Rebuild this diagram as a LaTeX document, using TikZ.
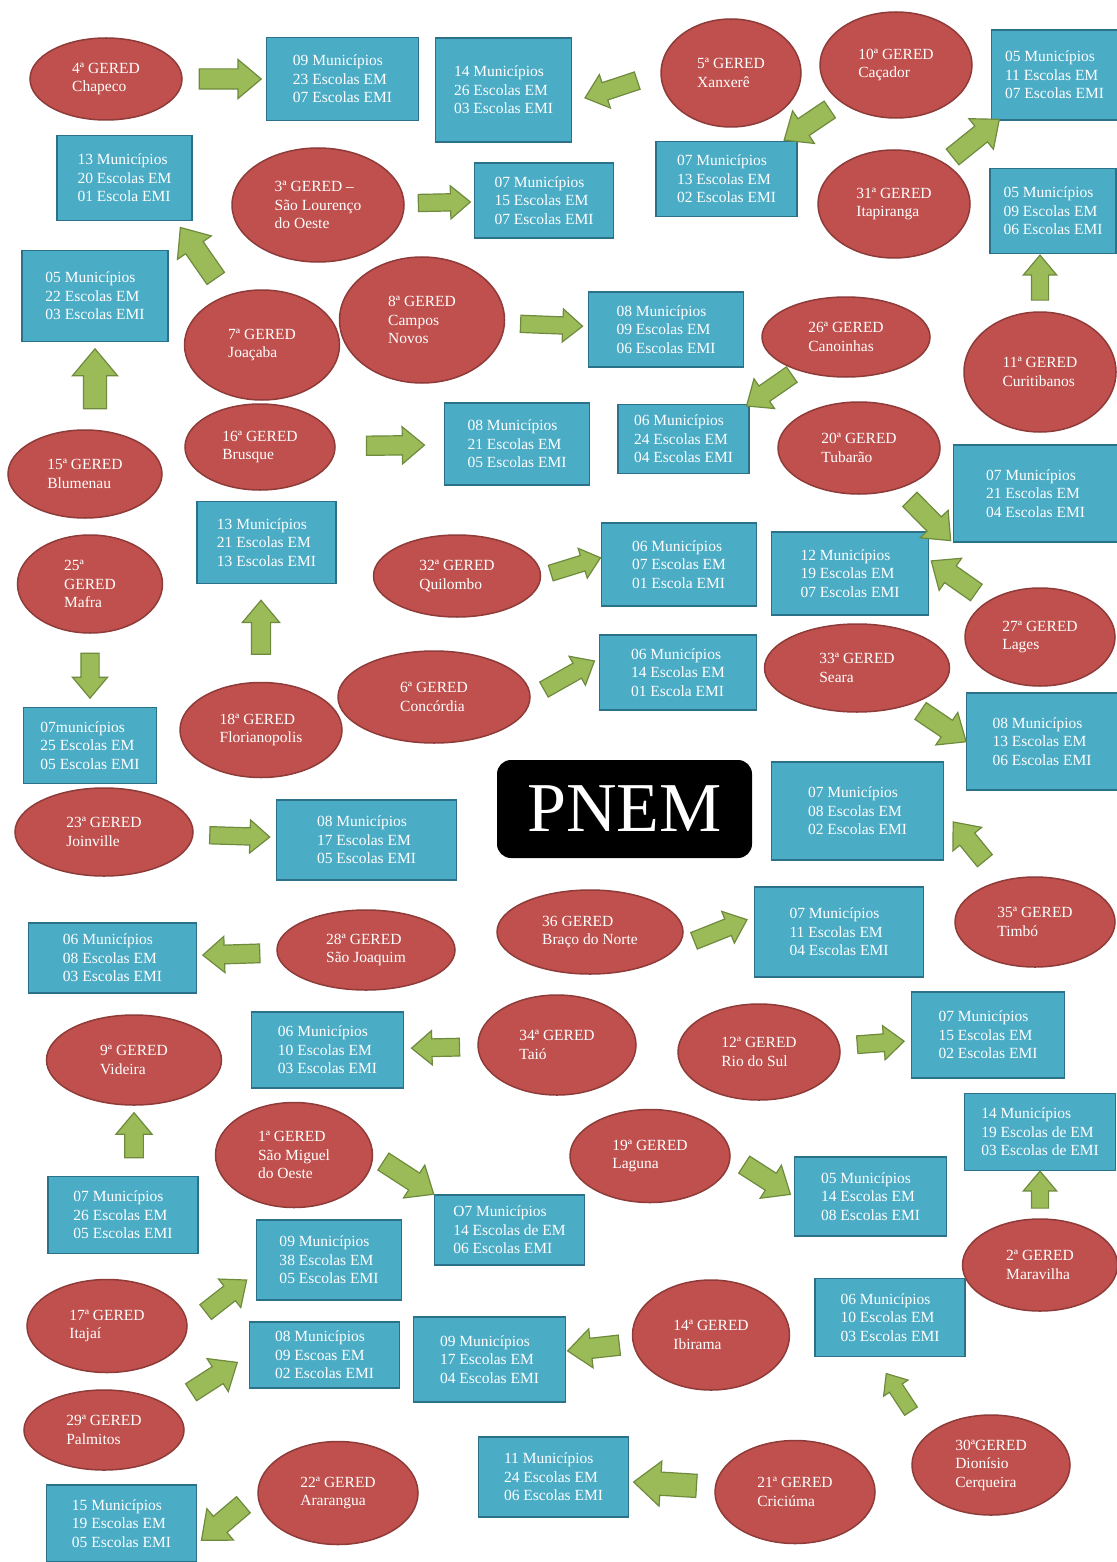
\documentclass[tikz,border=0pt]{standalone}
\usepackage{fontspec}
\setmainfont{Liberation Serif}
\usetikzlibrary{positioning,shapes.geometric,shapes.arrows}
\definecolor{geredfill}{HTML}{C0504D}
\definecolor{geredline}{HTML}{8E3B39}
\definecolor{boxfill}{HTML}{4BACC6}
\definecolor{boxline}{HTML}{2A7189}
\definecolor{arrowfill}{HTML}{9BBB59}
\definecolor{arrowline}{HTML}{6E8B3D}

\begin{document}
\begin{tikzpicture}[x=1pt, y=-1pt, font=\fontsize{15.5}{18.5}\selectfont,
  gered/.style 2 args={ellipse, draw=geredline, line width=1.5pt, fill=geredfill, text=white, align=left, inner sep=0pt, minimum width=#1pt, minimum height=#2pt},
  gbox/.style 2 args={rectangle, draw=boxline, line width=1.5pt, fill=boxfill, text=white, align=left, inner sep=0pt, minimum width=#1pt, minimum height=#2pt},
  barrow/.style 2 args={single arrow, draw=arrowline, fill=arrowfill, line width=1.2pt, inner xsep=0pt, inner ysep=#2pt/4, minimum height=#1pt, minimum width=#2pt, single arrow head extend=#2pt/4, single arrow tip angle=80, sloped, allow upside down}]
  \useasboundingbox (0,0) rectangle (1116,1562);

  \node[gered={152}{82}] (e4) at (106,79) {4ª GERED\\Chapeco};
  \node[gbox={152}{83}, right=83pt of e4] (b4) {09 Municípios\\23 Escolas EM\\07 Escolas EMI};
  \node[gered={140}{108}] (e5) at (731,73) {5ª GERED\\Xanxerê};
  \node[gbox={136}{104}, left=88pt of e5, yshift=-17pt] (b5) {14 Municípios\\26 Escolas EM\\03 Escolas EMI};
  \node[gered={152}{106}] (e10) at (896,65) {10ª GERED\\Caçador};
  \node[gbox={141}{75}, below=22pt of e10, xshift=-169.5pt] (b10) {07 Municípios\\13 Escolas EM\\02 Escolas EMI};
  \node[gered={152}{108}] (e31) at (894,204) {31ª GERED\\Itapiranga};
  \node[gbox={126}{90}, right=20pt of e31, yshift=129pt] (b31) {05 Municípios\\11 Escolas EM\\07 Escolas EMI};
  \node[gered={152}{120}] (e11) at (1040,372) {11ª GERED\\Curitibanos};
  \node[gbox={126}{85}, above=57pt of e11, xshift=13pt] (b11) {05 Municípios\\09 Escolas EM\\06 Escolas EMI};
  \node[gered={172}{114}] (e3) at (318,205) {3ª GERED –\\São Lourenço\\do Oeste};
  \node[gbox={139}{75}, right=69pt of e3, yshift=4.5pt] (b3) {07 Municípios\\15 Escolas EM\\07 Escolas EMI};
  \node[gered={155}{110}] (e7) at (262,345) {7ª GERED\\Joaçaba};
  \node[gbox={135}{85}, above=68pt of e7, xshift=-137.5pt] (b7) {13 Municípios\\20 Escolas EM\\01 Escola EMI};
  \node[gered={165}{126}] (e8) at (422,320) {8ª GERED\\Campos\\Novos};
  \node[gbox={155}{75}, right=82.5pt of e8, yshift=-9.5pt] (b8) {08 Municípios\\09 Escolas EM\\06 Escolas EMI};
  \node[gered={168}{80}] (e26) at (846,337) {26ª GERED\\Canoinhas};
  \node[gbox={131}{69}, below=26pt of e26, xshift=-162.5pt] (b26) {06 Municípios\\24 Escolas EM\\04 Escolas EMI};
  \node[gered={162}{92}] (e20) at (859,448) {20ª GERED\\Tubarão};
  \node[gbox={164}{97}, right=12pt of e20, yshift=-45.5pt] (b20) {07 Municípios\\21 Escolas EM\\04 Escolas EMI};
  \node[gered={154}{88}] (e15) at (85,474) {15ª GERED\\Blumenau};
  \node[gbox={146}{91}, above=87pt of e15, xshift=10pt] (b15) {05 Municípios\\22 Escolas EM\\03 Escolas EMI};
  \node[gered={150}{86}] (e16) at (260,447) {16ª GERED\\Brusque};
  \node[gbox={145}{82}, right=108pt of e16, yshift=3pt] (b16) {08 Municípios\\21 Escolas EM\\05 Escolas EMI};
  \node[gered={145}{98}] (e25) at (90,584) {25ª\\GERED\\Mafra};
  \node[gbox={133}{76}, below=73pt of e25] (b25) {07municípios\\25 Escolas EM\\05 Escolas EMI};
  \node[gered={162}{95}] (e18) at (261,730) {18ª GERED\\Florianopolis};
  \node[gbox={139}{82}, above=97.5pt of e18, xshift=5.5pt] (b18) {13 Municípios\\21 Escolas EM\\13 Escolas EMI};
  \node[gered={167}{82}] (e32) at (457,576) {32ª GERED\\Quilombo};
  \node[gbox={155}{83}, right=59.5pt of e32, yshift=11.5pt] (b32) {06 Municípios\\07 Escolas EM\\01 Escola EMI};
  \node[gered={150}{98}] (e27) at (1040,637) {27ª GERED\\Lages};
  \node[gbox={157}{83}, left=35pt of e27, yshift=63.5pt] (b27) {12 Municípios\\19 Escolas EM\\07 Escolas EMI};
  \node[gered={192}{92}] (e6) at (434,697) {6ª GERED\\Concórdia};
  \node[gbox={157}{75}, right=68pt of e6, yshift=24.5pt] (b6) {06 Municípios\\14 Escolas EM\\01 Escola EMI};
  \node[gered={185}{88}] (e33) at (857,668) {33ª GERED\\Seara};
  \node[gbox={151}{97}, right=15.5pt of e33, yshift=-73.5pt] (b33) {08 Municípios\\13 Escolas EM\\06 Escolas EMI};
  \node[rectangle, rounded corners=14pt, fill=black, text=white, minimum width=255pt, minimum height=98pt, font=\fontsize{70}{80}\selectfont] (pnem) at (624.5,809) {PNEM};
  \node[gered={178}{88}] (e23) at (104,832) {23ª GERED\\Joinville};
  \node[gbox={180}{80}, right=82pt of e23, yshift=-8pt] (b23) {08 Municípios\\17 Escolas EM\\05 Escolas EMI};
  \node[gered={160}{90}] (e35) at (1035,922) {35ª GERED\\Timbó};
  \node[gbox={172}{98}, left=10pt of e35, yshift=111pt] (b35) {07 Municípios\\08 Escolas EM\\02 Escolas EMI};
  \node[gered={178}{80}] (e28) at (366,950) {28ª GERED\\São Joaquim};
  \node[gbox={168}{70}, left=79pt of e28, yshift=-8pt] (b28) {06 Municípios\\08 Escolas EM\\03 Escolas EMI};
  \node[gered={186}{84}] (e36) at (590,932) {36 GERED\\Braço do Norte};
  \node[gbox={169}{90}, right=70pt of e36] (b36) {07 Municípios\\11 Escolas EM\\04 Escolas EMI};
  \node[gered={158}{100}] (e34) at (557,1045) {34ª GERED\\Taió};
  \node[gbox={152}{76}, left=73pt of e34, yshift=-5pt] (b34) {06 Municípios\\10 Escolas EM\\03 Escolas EMI};
  \node[gered={175}{90}] (e9) at (134,1060) {9ª GERED\\Videira};
  \node[gbox={150}{77}, below=70pt of e9, xshift=-11pt] (b9) {07 Municípios\\26 Escolas EM\\05 Escolas EMI};
  \node[gered={162}{96}] (e12) at (759,1052) {12ª GERED\\Rio do Sul};
  \node[gbox={153}{86}, right=70pt of e12, yshift=17pt] (b12) {07 Municípios\\15 Escolas EM\\02 Escolas EMI};
  \node[gered={157}{105}] (e1) at (294,1155) {1ª GERED\\São Miguel\\do Oeste};
  \node[gbox={150}{70}, right=60.5pt of e1, yshift=-75pt] (b1) {O7 Municípios\\14 Escolas de EM\\06 Escolas EMI};
  \node[gered={160}{93}] (e19) at (650,1156) {19ª GERED\\Laguna};
  \node[gbox={152}{79}, right=63pt of e19, yshift=-40.5pt] (b19) {05 Municípios\\14 Escolas EM\\08 Escolas EMI};
  \node[gered={155}{92}] (e2) at (1040,1265) {2ª GERED\\Maravilha};
  \node[gbox={151}{77}, above=47pt of e2] (b2) {14 Municípios\\19 Escolas de EM\\03 Escolas de EMI};
  \node[gered={158}{100}] (e30) at (991,1465) {30ªGERED\\Dionísio\\Cerqueira};
  \node[gbox={150}{78}, above=57pt of e30, xshift=-101pt] (b30) {06 Municípios\\10 Escolas EM\\03 Escolas EMI};
  \node[gered={157}{110}] (e14) at (711,1335) {14ª GERED\\Ibirama};
  \node[gbox={152}{85}, left=65.5pt of e14, yshift=-24.5pt] (b14) {09 Municípios\\17 Escolas EM\\04 Escolas EMI};
  \node[gered={160}{93}] (e17) at (107,1326) {17ª GERED\\Itajaí};
  \node[gbox={145}{80}, right=68pt of e17, yshift=66pt] (b17) {09 Municípios\\38 Escolas EM\\05 Escolas EMI};
  \node[gered={160}{80}] (e29) at (104,1430) {29ª GERED\\Palmitos};
  \node[gbox={150}{66}, right=64pt of e29, yshift=75pt] (b29) {08 Municípios\\09 Escoas EM\\02 Escolas EMI};
  \node[gered={160}{103}] (e21) at (795,1492) {21ª GERED\\Criciúma};
  \node[gbox={150}{80}, left=85pt of e21, yshift=15pt] (b21) {11 Municípios\\24 Escolas EM\\06 Escolas EMI};
  \node[gered={160}{103}] (e22) at (338,1493) {22ª GERED\\Ararangua};
  \node[gbox={150}{77}, left=60pt of e22, yshift=-30.5pt] (b22) {15 Municípios\\19 Escolas EM\\05 Escolas EMI};

  \path (e4) -- node[barrow={62}{38}] (ar4) {} (b4);
  \path (e5.west) -- node[barrow={55}{34}] (ar5) {} (b5.-10);
  \path (e10) -- node[barrow={55}{38}] (ar10) {} (b10);
  \path (e31) -- node[barrow={60}{38}] (ar31) {} (b31);
  \path (e11.north) -- node[barrow={45}{32}] (ar11) {} (e11.north |- b11.south);
  \path (e3) -- node[barrow={52}{32}] (ar3) {} (b3);
  \path (e7) -- node[barrow={62}{40}] (ar7) {} (b7.-40);
  \path (e8) -- node[barrow={62}{32}] (ar8) {} (b8);
  \path (e26) -- node[barrow={55}{35}] (ar26) {} (b26.north east);
  \path (e20) -- node[barrow={58}{38}] (ar20) {} (b20.south west);
  \path (b15.south |- e15.north) -- node[barrow={60}{44}] (ar15) {} (b15.south);
  \path (e16) -- node[barrow={58}{36}] (ar16) {} (b16);
  \path (e25.south) -- node[barrow={45}{34}] (ar25) {} (e25.south |- b25.north);
  \path (e18.north) -- node[barrow={54}{36}] (ar18) {} (e18.north |- b18.south);
  \path (e32.east) -- node[barrow={52}{30}] (ar32) {} (b32.175);
  \path (e6.east) -- node[barrow={58}{32}] (ar6) {} (b6.170);
  \path (e27) -- node[barrow={55}{38}] (ar27) {} (b27.10);
  \path (e33) -- node[barrow={55}{38}] (ar33) {} (b33.west);
  \path (e23) -- node[barrow={60}{32}] (ar23) {} (b23);
  \path (e35) -- node[barrow={50}{36}] (ar35) {} (b35.east);
  \path (e28) -- node[barrow={57}{35}] (ar28) {} (b28);
  \path (e36.-10) -- node[barrow={57}{33}] (ar36) {} (b36.170);
  \path (e34) -- node[barrow={48}{33}] (ar34) {} (b34);
  \path (e12) -- node[barrow={47}{33}] (ar12) {} (b12);
  \path (e9.south |- b9.north) -- node[barrow={45}{35}] (ar9) {} (e9.south);
  \path (e1.east) -- node[barrow={60}{38}] (ar1) {} (b1.north west);
  \path (e19.east) -- node[barrow={55}{38}] (ar19) {} (b19.west);
  \path (e2.north) -- node[barrow={37}{32}] (ar2) {} (e2.north |- b2.south);
  \path (e30.155) -- node[barrow={45}{28}] (ar30) {} (b30.-110);
  \path (e14) -- node[barrow={52}{38}] (ar14) {} (b14);
  \path (e17.east) -- node[barrow={52}{35}] (ar17) {} (b17.-170);
  \path (e29.20) -- node[barrow={55}{38}] (ar29) {} (b29.west);
  \path (e21) -- node[barrow={63}{44}] (ar21) {} (b21);
  \path (e22.west) -- node[barrow={55}{40}] (ar22) {} (b22.-15);
\end{tikzpicture}
\end{document}
